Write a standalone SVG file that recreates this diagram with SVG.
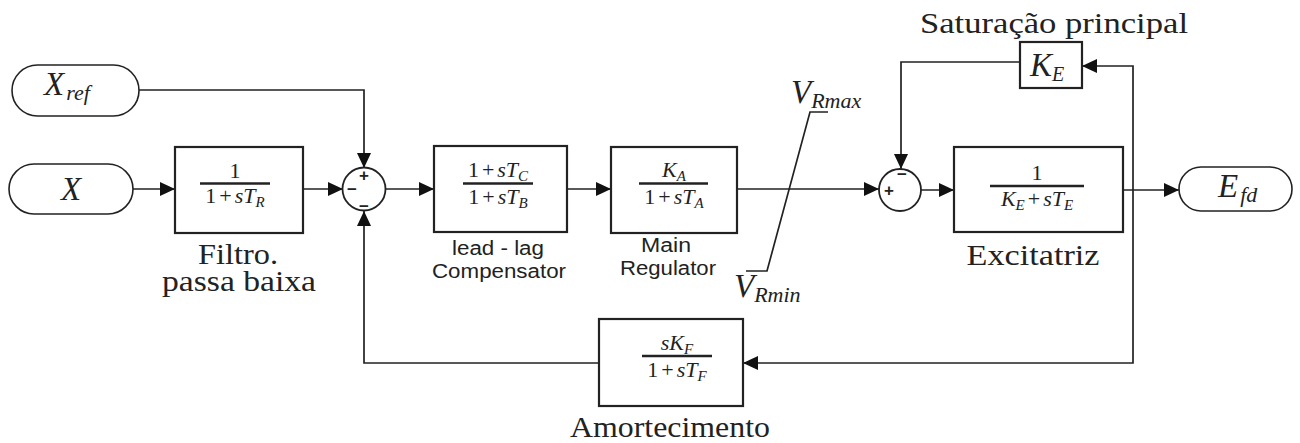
<svg xmlns="http://www.w3.org/2000/svg" width="1300" height="443" viewBox="0 0 1300 443">
<defs>
<marker id="ah" markerUnits="userSpaceOnUse" markerWidth="16" markerHeight="14" refX="15" refY="7" orient="auto">
<path d="M0,0 L15,7 L0,14 z" fill="#111"/>
</marker>
<style>
.box{fill:#fff;stroke:#222;stroke-width:2.2}
.pill{fill:#fff;stroke:#222;stroke-width:1.6}
.sum{fill:#fff;stroke:#222;stroke-width:1.8}
.ln{fill:none;stroke:#222;stroke-width:1.7}
.bar{stroke:#222;stroke-width:2.4}
.m{font-family:"Liberation Serif","DejaVu Serif",serif;font-size:22px;fill:#222}
.i{font-style:italic}
.lbl{font-family:"Liberation Serif","DejaVu Serif",serif;font-size:29px;fill:#222}
.big{font-family:"Liberation Serif","DejaVu Serif",serif;font-size:33px;font-style:italic;fill:#222}
.sans{font-family:"Liberation Sans",Arial,sans-serif;font-size:20px;fill:#222}
.sg{font-family:"Liberation Sans",sans-serif;font-size:17px;font-weight:bold;fill:#222}
</style>
</defs>

<g id="connectors">
<path class="ln" d="M139,90 H364 V168" marker-end="url(#ah)"/>
<path class="ln" d="M133,189 H175" marker-end="url(#ah)"/>
<path class="ln" d="M303,189 H343" marker-end="url(#ah)"/>
<path class="ln" d="M386,189 H434" marker-end="url(#ah)"/>
<path class="ln" d="M567,189 H611" marker-end="url(#ah)"/>
<path class="ln" d="M737,189 H879" marker-end="url(#ah)"/>
<path class="ln" d="M921,190 H954" marker-end="url(#ah)"/>
<path class="ln" d="M1123,190 H1179" marker-end="url(#ah)"/>
<path class="ln" d="M1133,190 V66 H1082" marker-end="url(#ah)"/>
<path class="ln" d="M1133,190 V363 H743" marker-end="url(#ah)"/>
<path class="ln" d="M1020,62 H901 V169" marker-end="url(#ah)"/>
<path class="ln" d="M599,363 H364 V211" marker-end="url(#ah)"/>
</g>

<g id="limiter">
<path class="ln" d="M746,271 H767 L810,112 H828"/>
<text x="791" y="103" class="big">V<tspan font-size="22" dy="5">Rmax</tspan></text>
<text x="734" y="297" class="big">V<tspan font-size="22" dy="5">Rmin</tspan></text>
</g>

<g id="n-xref">
<rect class="pill" x="12" y="65" width="127" height="51" rx="25.5"/>
<text x="44" y="95" class="big">X<tspan font-size="22" dy="5" dx="2">ref</tspan></text>
</g>

<g id="n-x">
<rect class="pill" x="9" y="164" width="124" height="50" rx="25"/>
<text x="71" y="200" class="big" text-anchor="middle">X</text>
</g>

<g id="n-filter">
<rect class="box" x="175" y="147" width="128" height="86"/>
<text x="235" y="178" class="m" text-anchor="middle">1</text>
<line class="bar" x1="200" y1="183.5" x2="270" y2="183.5"/>
<text x="235" y="203" class="m" text-anchor="middle">1<tspan dx="3">+</tspan><tspan dx="3" class="i">sT</tspan><tspan class="i" font-size="15" dy="4">R</tspan></text>
<text x="238" y="264" class="lbl" text-anchor="middle" font-size="27" textLength="80" lengthAdjust="spacingAndGlyphs">Filtro.</text>
<text x="239" y="291" class="lbl" text-anchor="middle" textLength="154" lengthAdjust="spacingAndGlyphs">passa baixa</text>
</g>

<g id="n-sum1">
<circle class="sum" cx="364" cy="189" r="21.5"/>
<text x="364" y="181" class="sg" text-anchor="middle">+</text>
<text x="352" y="195" class="sg" text-anchor="middle">−</text>
<text x="364" y="212" class="sg" text-anchor="middle">−</text>
</g>

<g id="n-leadlag">
<rect class="box" x="434" y="146" width="133" height="86"/>
<text x="498" y="177" class="m" text-anchor="middle">1<tspan dx="3">+</tspan><tspan dx="3" class="i">sT</tspan><tspan class="i" font-size="15" dy="4">C</tspan></text>
<line class="bar" x1="463" y1="183.5" x2="533" y2="183.5"/>
<text x="498" y="204" class="m" text-anchor="middle">1<tspan dx="3">+</tspan><tspan dx="3" class="i">sT</tspan><tspan class="i" font-size="15" dy="4">B</tspan></text>
<text x="498" y="255" class="sans" text-anchor="middle" textLength="92" lengthAdjust="spacingAndGlyphs">lead - lag</text>
<text x="499" y="278" class="sans" text-anchor="middle" textLength="134" lengthAdjust="spacingAndGlyphs">Compensator</text>
</g>

<g id="n-regulator">
<rect class="box" x="611" y="147" width="126" height="86"/>
<text x="674" y="177" class="m i" text-anchor="middle">K<tspan font-size="15" dy="4">A</tspan></text>
<line class="bar" x1="639" y1="183.5" x2="708" y2="183.5"/>
<text x="674" y="204" class="m" text-anchor="middle">1<tspan dx="3">+</tspan><tspan dx="3" class="i">sT</tspan><tspan class="i" font-size="15" dy="4">A</tspan></text>
<text x="666" y="252" class="sans" text-anchor="middle" textLength="50" lengthAdjust="spacingAndGlyphs">Main</text>
<text x="668" y="275" class="sans" text-anchor="middle" textLength="96" lengthAdjust="spacingAndGlyphs">Regulator</text>
</g>

<g id="n-sum2">
<circle class="sum" cx="900" cy="190" r="21"/>
<text x="889" y="196" class="sg" text-anchor="middle" font-size="15">+</text>
<text x="902" y="180" class="sg" text-anchor="middle">−</text>
</g>

<g id="n-ke">
<text x="1054" y="33" class="lbl" text-anchor="middle" textLength="268" lengthAdjust="spacingAndGlyphs">Saturação principal</text>
<rect class="box" x="1020" y="42" width="62" height="46"/>
<text x="1030" y="76" class="big" font-size="30">K<tspan font-size="20" dy="5">E</tspan></text>
</g>

<g id="n-exciter">
<rect class="box" x="954" y="147" width="169" height="85"/>
<text x="1037" y="180" class="m" text-anchor="middle">1</text>
<line class="bar" x1="990" y1="186" x2="1084" y2="186"/>
<text x="1037" y="206" class="m" text-anchor="middle"><tspan class="i">K</tspan><tspan class="i" font-size="15" dy="4">E</tspan><tspan dx="3" dy="-4">+</tspan><tspan dx="3" class="i">sT</tspan><tspan class="i" font-size="15" dy="4">E</tspan></text>
<text x="1033" y="265" class="lbl" text-anchor="middle" textLength="133" lengthAdjust="spacingAndGlyphs">Excitatriz</text>
</g>

<g id="n-efd">
<rect class="pill" x="1179" y="167" width="113" height="44" rx="22"/>
<text x="1218" y="197" class="big" font-size="31">E<tspan font-size="22" dy="5" dx="2">fd</tspan></text>
</g>

<g id="n-damping">
<rect class="box" x="599" y="319" width="144" height="87"/>
<text x="677" y="350" class="m" text-anchor="middle"><tspan class="i">sK</tspan><tspan class="i" font-size="15" dy="4">F</tspan></text>
<line class="bar" x1="642" y1="356" x2="712" y2="356"/>
<text x="677" y="377" class="m" text-anchor="middle">1<tspan dx="3">+</tspan><tspan dx="3" class="i">sT</tspan><tspan class="i" font-size="15" dy="4">F</tspan></text>
<text x="670" y="437" class="lbl" text-anchor="middle" textLength="200" lengthAdjust="spacingAndGlyphs">Amortecimento</text>
</g>
</svg>
